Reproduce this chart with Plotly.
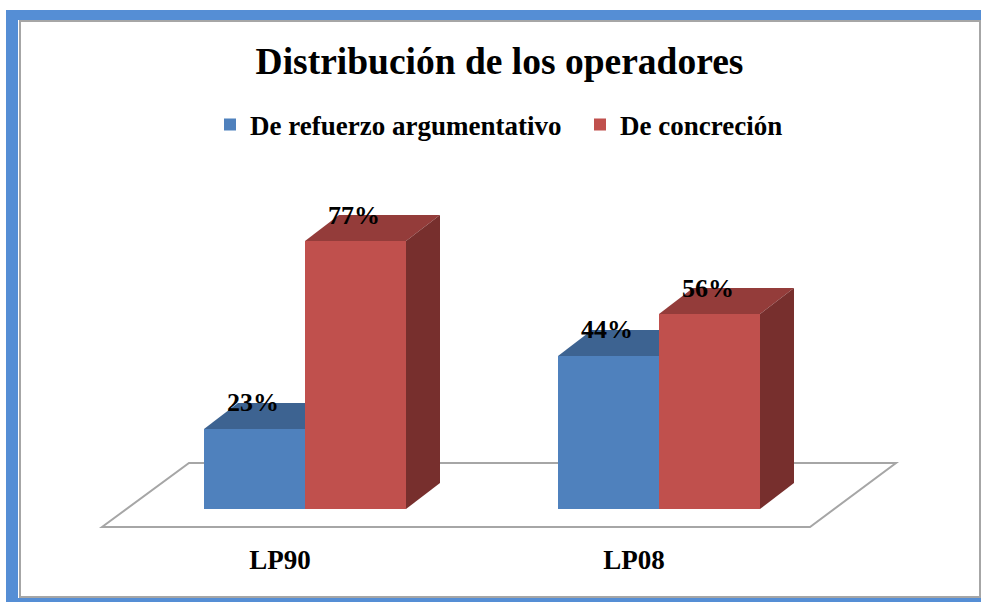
import plotly.graph_objects as go

categories = ["LP90", "LP08"]
series_names = ["De refuerzo argumentativo", "De concreción"]
refuerzo = [23, 44]
concrecion = [77, 56]

W, H = 981, 602
BOTTOM = 75
PX_PER_CAT = 354.0
PX_PER_PCT = 3.48
ORIGIN_X = 305.0
ORIGIN_Y = 509.0
BAR_W = 101 / PX_PER_CAT
DX = 34 / PX_PER_CAT
DY = 26 / PX_PER_PCT
LABEL_DY = 24 / PX_PER_PCT
LABEL_DX = -1.5 / PX_PER_CAT
TICK_SHIFT = 25 / PX_PER_CAT

BLUE, BLUE_TOP = "#4f81bd", "#3d6391"
RED, RED_TOP, RED_SIDE = "#c0504d", "#943c3a", "#772f2d"
FRAME = "#558ed5"
GRAY = "#a6a6a6"
FONT = "Liberation Serif"

x_idx = list(range(len(categories)))
fig = go.Figure()


def face(xs, ys, color):
    fig.add_trace(go.Scatter(x=xs, y=ys, mode="lines", fill="toself", fillcolor=color,
                             line=dict(width=0), showlegend=False, hoverinfo="skip"))


fig.add_trace(go.Bar(x=x_idx, y=refuerzo, name=series_names[0], width=BAR_W, offset=-BAR_W,
                     marker=dict(color=BLUE, line=dict(width=0))))
fig.add_trace(go.Bar(x=x_idx, y=concrecion, name=series_names[1], width=BAR_W, offset=0,
                     marker=dict(color=RED, line=dict(width=0))))

for i, v in zip(x_idx, refuerzo):
    face([i - BAR_W, i - BAR_W + DX, i, i, i - BAR_W],
         [v, v + DY, v + DY, v, v], BLUE_TOP)
for i, v in zip(x_idx, concrecion):
    face([i, i + DX, i + BAR_W + DX, i + BAR_W, i],
         [v, v + DY, v + DY, v, v], RED_TOP)
    face([i + BAR_W, i + BAR_W + DX, i + BAR_W + DX, i + BAR_W, i + BAR_W],
         [0, DY, v + DY, v, 0], RED_SIDE)

label_font = dict(family=FONT, size=26, color="black", weight="bold")
for vals, off in ((refuerzo, -BAR_W / 2), (concrecion, BAR_W / 2)):
    fig.add_trace(go.Scatter(x=[i + off + LABEL_DX for i in x_idx], y=[v + LABEL_DY for v in vals], mode="text",
                             text=[f"{v}%" for v in vals], textposition="middle center",
                             textfont=label_font, showlegend=False, hoverinfo="skip", cliponaxis=False))


def px(x):
    return x / W


def py(y):
    return 1 - y / (H - BOTTOM)


def rect(x0, y0, x1, y1, fill=None, line=None, lw=0):
    return dict(type="rect", xref="paper", yref="paper", layer="below",
                x0=px(x0), x1=px(x1), y0=py(y0), y1=py(y1),
                fillcolor=fill or "rgba(0,0,0,0)",
                line=dict(color=line or "rgba(0,0,0,0)", width=lw))


floor = [(102, 527), (189, 463), (896, 463), (810, 527)]
path = "M " + " L ".join(f"{px(a):.5f} {py(b):.5f}" for a, b in floor) + " Z"
shapes = [
    rect(6, 10, W + 2, H + 2, fill=FRAME),
    rect(18, 20, W + 2, 598, fill="white"),
    rect(20, 21, 980, 597, line=GRAY, lw=2),
    dict(type="path", path=path, xref="paper", yref="paper", layer="below",
         fillcolor="white", line=dict(color=GRAY, width=2)),
]

fig.update_layout(
    width=W, height=H, autosize=False,
    margin=dict(l=0, r=0, t=0, b=BOTTOM, pad=0),
    paper_bgcolor="white", plot_bgcolor="rgba(0,0,0,0)",
    barmode="overlay", shapes=shapes,
    title=dict(text="Distribución de los operadores", x=499.5 / W, y=1 - 61 / H,
               xanchor="center", yanchor="middle",
               font=dict(family=FONT, size=37.5, color="black", weight="bold")),
    legend=dict(orientation="h", x=px(210), xanchor="left", y=py(125), yanchor="middle",
                bgcolor="rgba(0,0,0,0)", entrywidth=325, entrywidthmode="pixels",
                font=dict(family=FONT, size=27, color="black", weight="bold")),
    xaxis=dict(range=[-ORIGIN_X / PX_PER_CAT, (W - ORIGIN_X) / PX_PER_CAT],
               tickmode="array", tickvals=[i - TICK_SHIFT for i in x_idx], ticktext=categories,
               ticks="outside", ticklen=9, tickcolor="rgba(0,0,0,0)",
               tickfont=dict(family=FONT, size=27, color="black", weight="bold"),
               showgrid=False, zeroline=False, showline=False, fixedrange=True),
    yaxis=dict(range=[(ORIGIN_Y - (H - BOTTOM)) / PX_PER_PCT, ORIGIN_Y / PX_PER_PCT],
               visible=False, fixedrange=True),
)

fig.write_html("out.html", config=dict(displayModeBar=False),
               post_script="document.body.style.margin='0';document.documentElement.style.overflow='hidden';")
